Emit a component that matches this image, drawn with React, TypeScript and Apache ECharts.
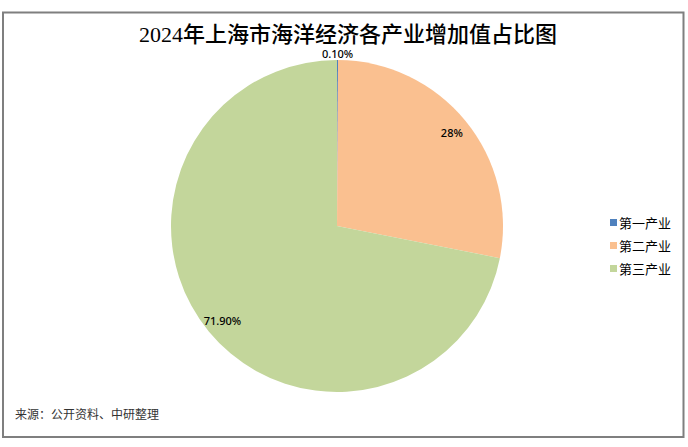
import React, { useEffect, useRef } from "react";
import * as echarts from "echarts";

const categories = ["第一产业", "第二产业", "第三产业"];
const values = [0.1, 28, 71.9];
const labelTexts = ["0.10%", "28%", "71.90%"];
const colors = ["#4F81BD", "#FAC090", "#C3D69B"];

export default function App() {
  const ref = useRef<HTMLDivElement>(null);
  useEffect(() => {
    document.body.style.margin = "0";
    const chart = echarts.init(ref.current!, null, { renderer: "svg" });
    const cx = 337;
    const cy = 226;
    const R = 166;
    const data = categories.map((name, i) => ({
      name,
      value: values[i],
      itemStyle: { color: colors[i] },
    }));
    const labelFont = {
      fontFamily: "'Noto Sans', sans-serif",
      fontSize: 11,
      fontWeight: 500 as any,
      color: "#000",
    };
    chart.setOption({
      animation: false,
      backgroundColor: "#fff",
      title: {
        text: "2024年上海市海洋经济各产业增加值占比图",
        left: 343,
        top: 17,
        textAlign: "center",
        textStyle: {
          fontFamily: "'Liberation Serif', 'Noto Sans CJK SC', serif",
          fontSize: 22,
          fontWeight: 500,
          color: "#000",
          lineHeight: 24,
        },
      },
      legend: {
        orient: "vertical",
        left: 605,
        top: 211,
        itemWidth: 7,
        itemHeight: 7,
        itemGap: 10,
        icon: "rect",
        data: categories,
        textStyle: {
          fontFamily: "'Noto Sans CJK SC', sans-serif",
          fontSize: 13,
          color: "#000",
          padding: [0, 0, 0, -3],
        },
      },
      graphic: [
        {
          type: "rect",
          shape: { x: 3, y: 12.5, width: 680.5, height: 424.5 },
          style: { fill: "none", stroke: "#7f7f7f", lineWidth: 2 },
          silent: true,
        },
        {
          type: "text",
          left: 15,
          top: 407,
          style: {
            text: "来源：公开资料、中研整理",
            fontFamily: "'Noto Sans CJK SC', sans-serif",
            fontSize: 12,
            fill: "#333",
          },
        },
      ],
      series: [
        {
          type: "pie",
          center: [cx, cy],
          radius: [0, R],
          startAngle: 90,
          clockwise: true,
          avoidLabelOverlap: false,
          label: { show: false },
          labelLine: { show: false },
          itemStyle: { borderWidth: 0 },
          data,
          silent: true,
        },
        {
          type: "pie",
          center: [cx, cy],
          radius: [0.75 * R, R],
          startAngle: 90,
          clockwise: true,
          avoidLabelOverlap: false,
          silent: true,
          legendHoverLink: false,
          itemStyle: { color: "rgba(0,0,0,0)" },
          labelLine: { show: false },
          label: {
            show: true,
            position: "inside",
            formatter: (p: any) => labelTexts[p.dataIndex],
            ...labelFont,
          },
          data: categories.map((name, i) => ({
            name: name + "_l",
            value: values[i],
            label: { show: i !== 0 },
          })),
        },
        {
          type: "pie",
          center: [cx, cy],
          radius: [R - 1, R + 9],
          startAngle: 90,
          clockwise: true,
          avoidLabelOverlap: false,
          silent: true,
          legendHoverLink: false,
          itemStyle: { color: "rgba(0,0,0,0)" },
          labelLine: { show: false },
          label: {
            show: true,
            position: "inside",
            formatter: (p: any) => labelTexts[p.dataIndex],
            ...labelFont,
          },
          data: categories.map((name, i) => ({
            name: name + "_t",
            value: values[i],
            label: { show: i === 0 },
          })),
        },
      ],
    });
    return () => chart.dispose();
  }, []);
  return (
    <div
      ref={ref}
      style={{ position: "fixed", left: 0, top: 0, width: 688, height: 447 }}
    />
  );
}
